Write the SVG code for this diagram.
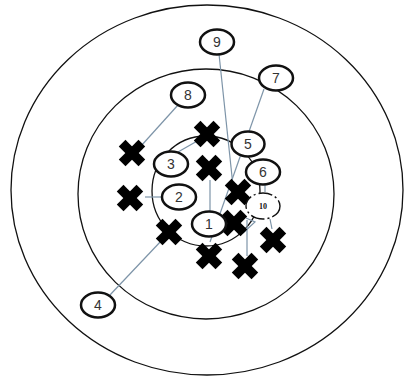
<svg xmlns="http://www.w3.org/2000/svg" width="405" height="378" viewBox="0 0 405 378">
<style>
.ring{fill:none;stroke:#111;stroke-width:1.3}
.node{fill:#fff;stroke:#111;stroke-width:2.5}
.lbl{font-family:"Liberation Sans",Arial,sans-serif;font-size:14px;fill:#333;text-anchor:middle}
.conn line,.conn polyline{stroke:#7d94a8;stroke-width:1.2;fill:none}
.x{stroke:#000;stroke-width:9.5;stroke-linecap:square}
</style>
<defs>
<g id="xm"><line class="x" x1="-6.5" y1="-6.5" x2="6.5" y2="6.5"/><line class="x" x1="-6.5" y1="6.5" x2="6.5" y2="-6.5"/></g>
</defs>
<rect width="405" height="378" fill="#fff"/>
<g id="rings">
<ellipse class="ring" cx="207" cy="190" rx="196" ry="185"/>
<ellipse class="ring" cx="206" cy="194" rx="128" ry="125"/>
<ellipse class="ring" cx="206" cy="191" rx="54" ry="55"/>
</g>
<g id="connectors" class="conn">
<line x1="178" y1="105" x2="141" y2="146"/>
<line x1="219" y1="54" x2="233" y2="186"/>
<line x1="264" y1="89" x2="210" y2="242"/>
<line x1="178" y1="152" x2="199" y2="140"/>
<line x1="145" y1="197" x2="162" y2="197"/>
<line x1="210" y1="180" x2="210" y2="212"/>
<line x1="109" y1="296" x2="162" y2="240"/>
<line x1="247" y1="220" x2="247" y2="256"/>
<line x1="270" y1="219" x2="272" y2="229"/>
<polyline points="246,218 255,222 243,233"/>
<line x1="265" y1="183" x2="265" y2="192"/>
</g>
<g id="marks">
<use href="#xm" x="207" y="134"/>
<use href="#xm" x="132" y="153"/>
<use href="#xm" x="209" y="168"/>
<use href="#xm" x="130" y="198"/>
<use href="#xm" x="238" y="192"/>
<use href="#xm" x="169" y="232"/>
<use href="#xm" x="234" y="223"/>
<use href="#xm" x="273" y="240"/>
<use href="#xm" x="209" y="256"/>
<use href="#xm" x="245" y="266"/>
</g>
<g id="n9"><ellipse class="node" cx="217" cy="42" rx="17" ry="12.5"/><text class="lbl" x="217" y="47">9</text></g>
<g id="n7"><ellipse class="node" cx="276" cy="78" rx="17" ry="12.5"/><text class="lbl" x="276" y="83">7</text></g>
<g id="n8"><ellipse class="node" cx="188" cy="95" rx="17" ry="12.5"/><text class="lbl" x="188" y="100">8</text></g>
<g id="n5"><ellipse class="node" cx="248" cy="144" rx="16.5" ry="12.5"/><text class="lbl" x="248" y="149">5</text></g>
<g id="n3"><ellipse class="node" cx="171" cy="164" rx="17" ry="12.5"/><text class="lbl" x="171" y="169">3</text></g>
<g id="n6"><ellipse class="node" cx="263" cy="172" rx="17" ry="12.5"/><text class="lbl" x="263" y="177">6</text></g>
<g id="n2"><ellipse class="node" cx="179" cy="197" rx="17" ry="12.5"/><text class="lbl" x="179" y="202">2</text></g>
<g id="n10"><ellipse cx="263" cy="206" rx="17" ry="13" fill="#fff" stroke="#111" stroke-width="1.4" stroke-dasharray="14 3 2 3"/><text x="263" y="209" font-family="'Liberation Serif',serif" font-size="8" font-weight="bold" fill="#111" text-anchor="middle">10</text></g>
<g id="n1"><ellipse class="node" cx="209" cy="224" rx="17" ry="12.5"/><text class="lbl" x="209" y="229">1</text></g>
<g id="n4"><ellipse class="node" cx="98" cy="305" rx="17" ry="12.5"/><text class="lbl" x="98" y="310">4</text></g>
</svg>
